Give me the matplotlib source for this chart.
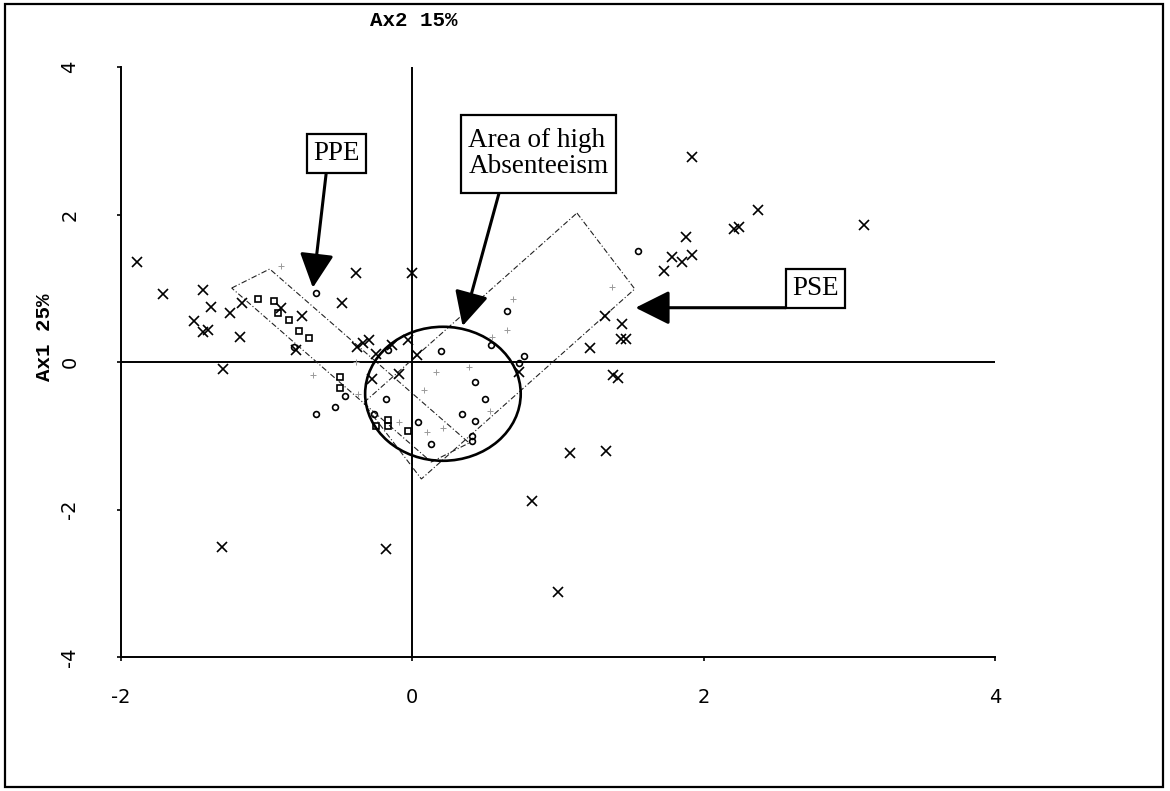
"""Correspondence map, Ax1 25% against Ax2 15%.

Cross, circle and square category points, with the PPE and PSE bands,
the area of high absenteeism ring and their boxed callouts.

Output: out.png
"""
import matplotlib.pyplot as plt
from matplotlib.patches import Rectangle, Polygon, Ellipse

plt.rcParams['axes.unicode_minus'] = False

# ----------------------------------------------------------------------
# Data (Ax2 on x, Ax1 on y)
# ----------------------------------------------------------------------
cross_x = [-1.89, -1.71, -1.44, -1.38, -1.50, -1.44, -1.40, -1.25, -1.17,
           -1.18, -1.30, -0.90, -0.76, -0.80, -0.39, -0.48, 0.00,
           -0.38, -0.34, -0.30, -0.25, -0.14, -0.03, 0.03, -0.09, -0.28,
           0.73,
           1.92, 2.37, 2.21, 2.24, 1.88, 1.78, 1.85, 1.92, 1.73, 3.10,
           1.32, 1.44, 1.43, 1.47, 1.22, 1.38, 1.41,
           1.08, 1.33, 0.82, 1.00, -0.18, -1.31]
cross_y = [1.36, 0.92, 0.97, 0.75, 0.56, 0.41, 0.44, 0.66, 0.80,
           0.34, -0.09, 0.73, 0.63, 0.16, 1.21, 0.80, 1.21,
           0.21, 0.26, 0.30, 0.11, 0.23, 0.30, 0.09, -0.16, -0.23,
           -0.14,
           2.78, 2.06, 1.80, 1.83, 1.69, 1.43, 1.35, 1.45, 1.24, 1.86,
           0.63, 0.51, 0.31, 0.31, 0.19, -0.17, -0.22,
           -1.23, -1.20, -1.88, -3.12, -2.54, -2.51]

circle_x = [1.55, -0.66, -0.81, -0.46, -0.53, -0.66, 0.20, 0.43, 0.50,
            0.34, 0.43, 0.41, 0.41, 0.65, 0.77, 0.73, 0.54, -0.18,
            -0.26, 0.04, 0.13, -0.17]
circle_y = [1.51, 0.93, 0.20, -0.46, -0.61, -0.71, 0.15, -0.27, -0.50,
            -0.70, -0.80, -1.00, -1.07, 0.69, 0.08, -0.02, 0.23, -0.50,
            -0.70, -0.82, -1.11, 0.16]

square_x = [-1.06, -0.95, -0.92, -0.85, -0.78, -0.71, -0.50, -0.50,
            -0.25, -0.17, -0.17, -0.03]
square_y = [0.86, 0.83, 0.66, 0.57, 0.42, 0.32, -0.20, -0.35,
            -0.87, -0.87, -0.78, -0.93]

faint_x = [-0.90, -0.68, -0.37, -0.09, 0.16, 0.08, 0.21, 0.53, -0.39,
           0.10, 0.39, 0.69, 0.65, 0.55, 1.37]
faint_y = [1.30, -0.18, -0.43, -0.82, -0.14, -0.38, -0.89, -0.66, 0.00,
           -0.95, -0.07, 0.85, 0.44, 0.34, 1.02]

x_ticks = [-2, 0, 2, 4]
y_ticks = [-4, -2, 0, 2, 4]

# overlay shapes, data coordinates
ppe_band = [(-1.240, 1.003), (-0.979, 1.261), (0.390, -1.098), (0.130, -1.356)]
pse_band = [(1.130, 2.020), (1.527, 0.990), (0.062, -1.586), (-0.336, -0.556)]
absent_ring = ((0.210, -0.431), 1.068, 1.817)   # centre, width, height

callouts = [
    # text, (x0, x1, y0, y1) of box, arrow start, arrow tip
    ('PPE', (-0.724, -0.317, 2.567, 3.088), (-0.591, 2.567), (-0.683, 1.007)),
    ('Area of high\nAbsenteeism', (0.334, 1.399, 2.296, 3.349),
     (0.596, 2.296), (0.345, 0.488)),
    ('PSE', (2.564, 2.970, 0.736, 1.257), (2.564, 0.736), (1.532, 0.736)),
]

# ----------------------------------------------------------------------
# Figure
# ----------------------------------------------------------------------
W, H = 1170, 791
fig = plt.figure(figsize=(W / 100, H / 100), dpi=100)
ax = fig.add_axes([121 / W, 1 - 657 / H, (995 - 121) / W, (657 - 67) / H])
ax.set_xlim(-2, 4)
ax.set_ylim(-4, 4)

for side in ('top', 'right'):
    ax.spines[side].set_visible(False)
for side in ('left', 'bottom'):
    ax.spines[side].set_linewidth(1.4)

TICK_FONT = ['Liberation Sans Narrow', 'DejaVu Sans']
ax.set_xticks(x_ticks)
ax.set_xticklabels([str(t) for t in x_ticks], fontfamily=TICK_FONT, fontsize=14)
ax.set_yticks(y_ticks)
ax.set_yticklabels([str(t) for t in y_ticks], fontfamily=TICK_FONT, fontsize=14,
                   rotation=90, va='center')
ax.tick_params(axis='x', direction='out', length=3, width=1.2, pad=19)
ax.tick_params(axis='y', direction='out', length=3, width=1.2, pad=27)

ax.axhline(0, color='black', lw=1.4, zorder=1)
ax.axvline(0, color='black', lw=1.4, zorder=1)

# bands and ring
DASHDOT = (0, (5, 2, 1, 2))
for band in (ppe_band, pse_band):
    ax.add_patch(Polygon(band, closed=True, fill=False, edgecolor='#222222',
                         lw=0.8, linestyle=DASHDOT, zorder=2))
centre, ew, eh = absent_ring
ax.add_patch(Ellipse(centre, ew, eh, fill=False, edgecolor='black', lw=1.9,
                     zorder=3))

# points
ax.plot(faint_x, faint_y, '+', color='#9a9a9a', ms=4, mew=0.7, zorder=3)
ax.plot(cross_x, cross_y, 'x', color='black', ms=6.5, mew=1.2, zorder=4)
ax.plot(circle_x, circle_y, 'o', mfc='none', mec='black', ms=4.2, mew=1.2,
        zorder=4)
ax.plot(square_x, square_y, 's', mfc='none', mec='black', ms=4.5, mew=1.2,
        zorder=4)

# callout boxes with arrows
for text, (x0, x1, y0, y1), start, tip in callouts:
    ax.add_patch(Rectangle((x0, y0), x1 - x0, y1 - y0, facecolor='white',
                           edgecolor='black', lw=1.6, zorder=6))
    ax.text((x0 + x1) / 2, (y0 + y1) / 2, text, ha='center', va='center',
            multialignment='left', fontsize=19.5, family='Liberation Serif',
            linespacing=1.05, zorder=7)
    ax.annotate('', xy=tip, xytext=start,
                arrowprops=dict(arrowstyle='-|>,head_length=2.1,head_width=1.05',
                                mutation_scale=10, lw=2.2, color='black',
                                shrinkA=0, shrinkB=0),
                zorder=5)

# axis titles in the typewriter face
fig.text(414 / W, 1 - 21 / H, 'Ax2 15%', ha='center', va='center',
         fontsize=15, family='Liberation Mono', weight='bold')
fig.text(45 / W, 1 - 337 / H, 'Ax1 25%', ha='center', va='center',
         rotation=90, fontsize=15, family='Liberation Mono', weight='bold')

# outer frame
fig.add_artist(Rectangle((5 / W, 4 / H), (1163 - 5) / W, (787 - 4) / H,
                         transform=fig.transFigure, fill=False,
                         edgecolor='black', lw=1.6))

fig.savefig('out.png', dpi=100, facecolor='white')
